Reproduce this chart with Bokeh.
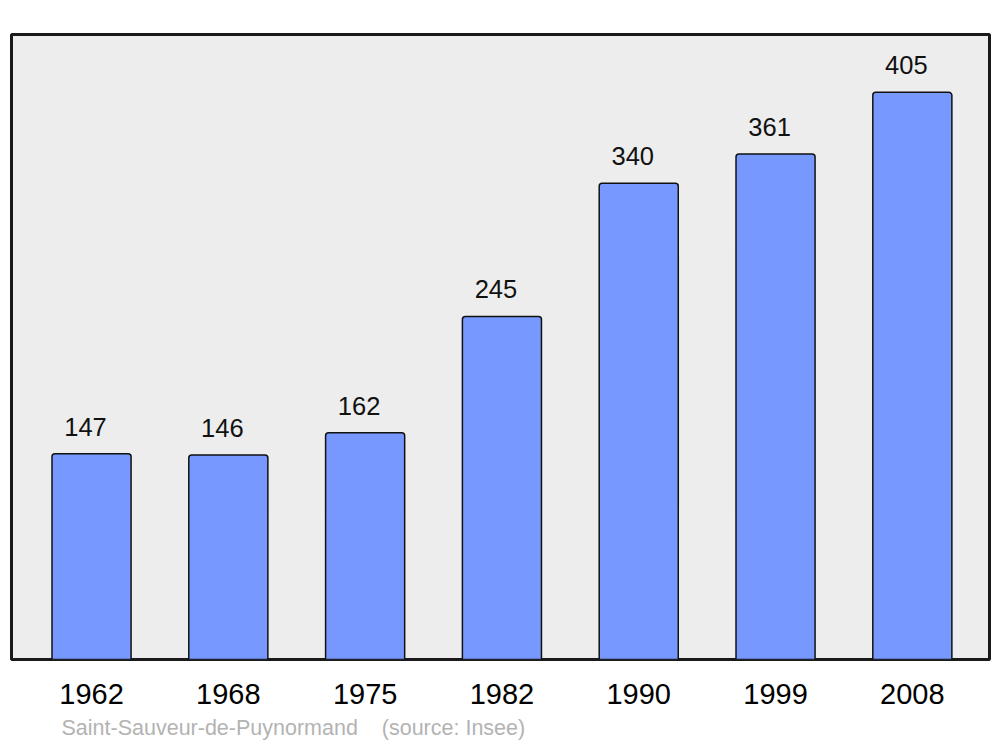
from bokeh.plotting import figure
from bokeh.models import ColumnDataSource, Range1d, LinearAxis, FixedTicker, Title
from bokeh.core.properties import value
from bokeh.embed import file_html
from bokeh.resources import INLINE

years = ["1962", "1968", "1975", "1982", "1990", "1999", "2008"]
population = [147, 146, 162, 245, 340, 361, 405]
caption = "Saint-Sauveur-de-Puynormand\u00a0\u00a0\u00a0\u00a0(source: Insee)"

xs = list(range(len(years)))
src = ColumnDataSource(dict(x=xs, top=population, label=[str(v) for v in population]))

p = figure(width=1000, height=747, output_backend="svg", toolbar_location=None,
           x_range=Range1d(-0.585, 6.564), y_range=Range1d(0, 446.3),
           x_axis_type=None, y_axis_type=None,
           min_border_left=11, min_border_right=11, min_border_top=34, min_border_bottom=87)
p.grid.visible = False
p.background_fill_color = "#ededed"
p.border_fill_color = "white"
p.outline_line_color = "#1a1a1a"
p.outline_line_width = 3

p.vbar(x="x", top="top", bottom=0, width=0.578, source=src,
       fill_color="#7799ff", line_color="#111111", line_width=1.5,
       border_radius=[3, 3, 0, 0])

p.text(x="x", y="top", text="label", source=src, text_align="center",
       text_baseline="alphabetic", x_offset=-6, y_offset=-27,
       text_font=value("Liberation Sans"), text_font_size="25.5px", text_color="#111111")

xaxis = LinearAxis(ticker=FixedTicker(ticks=xs),
                   major_label_overrides={i: y for i, y in enumerate(years)},
                   axis_line_color=None, major_tick_line_color=None, minor_tick_line_color=None,
                   major_tick_out=0, major_tick_in=0, major_label_standoff=24,
                   major_label_text_font="Liberation Sans", major_label_text_font_size="29px",
                   major_label_text_color="black")
p.add_layout(xaxis, "below")

cap = Title(text=caption, align="left", offset=50,
            text_font="Liberation Sans", text_font_size="21.5px", text_font_style="normal",
            text_color="#b3b3b3", standoff=15)
p.add_layout(cap, "below")

open("out.html", "w").write(file_html(p, INLINE))
